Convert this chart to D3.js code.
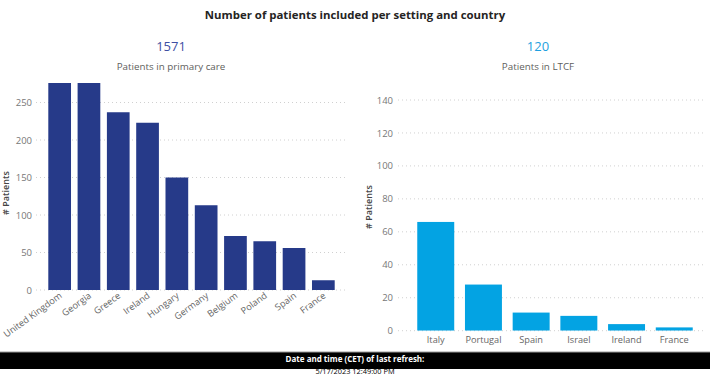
<!DOCTYPE html>
<html><head><meta charset="utf-8">
<script src="https://cdn.jsdelivr.net/npm/d3@7"></script>
<style>
body{margin:0;background:#fff;}
text{font-family:"Segoe UI","Open Sans",sans-serif;}
</style></head>
<body><svg id="c" width="710" height="375"></svg>
<script>
const primaryCountries = ["United Kingdom","Georgia","Greece","Ireland","Hungary","Germany","Belgium","Poland","Spain","France"];
const primaryValues = [320,320,237,223,150,113,72,65,56,13];
const primaryTicks = [0,50,100,150,200,250];
const ltcfCountries = ["Italy","Portugal","Spain","Israel","Ireland","France"];
const ltcfValues = [66,28,11,9,4,2];
const ltcfTicks = [0,20,40,60,80,100,120,140];
const totals = {primary:1571, ltcf:120};

const svg = d3.select("#c");
svg.append("text").attr("x",355).attr("y",19).attr("text-anchor","middle")
  .attr("font-size",11.4).attr("font-weight","bold").attr("fill","#252423")
  .text("Number of patients included per setting and country");

function panel(opts){
  const g = svg.append("g");
  const x = d3.scaleBand().domain(opts.cats).range(opts.xr).paddingInner(0.225).paddingOuter(opts.po);
  const y = d3.scaleLinear().domain(opts.yd).range(opts.yr);
  g.append("text").attr("x",opts.cx).attr("y",51).attr("text-anchor","middle")
    .attr("font-size",13).attr("fill",opts.kpiColor).text(opts.total);
  g.append("text").attr("x",opts.cx).attr("y",69.5).attr("text-anchor","middle")
    .attr("font-size",9.8).attr("fill","#605E5C").text(opts.sub);
  g.selectAll(".grid").data(opts.ticks).join("line")
    .attr("x1",opts.gx[0]).attr("x2",opts.gx[1])
    .attr("y1",d=>y(d)).attr("y2",d=>y(d))
    .attr("stroke","#d0d0d0").attr("stroke-dasharray","1,3").attr("stroke-width",1);
  const ya = g.append("g").attr("transform",`translate(${opts.yLabelX},0)`)
    .call(d3.axisLeft(y).tickValues(opts.ticks).tickSize(0).tickPadding(0));
  ya.select(".domain").remove();
  ya.selectAll("text").attr("font-size",9.5).attr("fill","#777")
    .attr("font-family","'Segoe UI','Open Sans',sans-serif");
  g.append("text").attr("transform",`translate(${opts.titleX},${opts.titleY}) rotate(-90)`)
    .attr("text-anchor","middle").attr("font-size",9).attr("font-weight","600").attr("fill","#444")
    .text("# Patients");
  const id = "clip"+opts.key;
  svg.append("clipPath").attr("id",id).append("rect")
    .attr("x",opts.gx[0]).attr("y",opts.yr[1]).attr("width",opts.gx[1]-opts.gx[0]).attr("height",opts.yr[0]-opts.yr[1]);
  g.append("g").attr("clip-path",`url(#${id})`).selectAll("rect").data(opts.vals).join("rect")
    .attr("x",(d,i)=>x(opts.cats[i])).attr("width",x.bandwidth())
    .attr("y",d=>y(d)).attr("height",d=>opts.yr[0]-y(d))
    .attr("fill",opts.barColor);
  const xl = g.selectAll(".xl").data(opts.cats).join("text")
    .attr("font-size",9.2).attr("fill","#666");
  if(opts.rot){
    xl.attr("text-anchor","end")
      .attr("transform",d=>`translate(${x(d)+x.bandwidth()/2+3},${opts.yr[0]+7}) rotate(-36)`)
      .text(d=>d);
  } else {
    xl.attr("text-anchor","middle").attr("x",d=>x(d)+x.bandwidth()/2).attr("y",opts.yr[0]+12).text(d=>d);
  }
}

panel({key:"p", cats:primaryCountries, vals:primaryValues, ticks:primaryTicks,
  xr:[42,341], po:0.215, yd:[0,276], yr:[290,83], gx:[36,347], yLabelX:32,
  cx:171, total:totals.primary, sub:"Patients in primary care",
  kpiColor:"#3E4FA3", barColor:"#263A89", titleX:9, titleY:193, rot:true});

panel({key:"l", cats:ltcfCountries, vals:ltcfValues, ticks:ltcfTicks,
  xr:[405,705], po:0.257, yd:[0,140], yr:[330.7,100], gx:[398,706], yLabelX:393,
  cx:538, total:totals.ltcf, sub:"Patients in LTCF",
  kpiColor:"#1E9FE0", barColor:"#03A3E3", titleX:372, titleY:207, rot:false});

svg.append("rect").attr("x",0).attr("y",352).attr("width",710).attr("height",17).attr("fill","#000");
svg.append("line").attr("x1",0).attr("x2",710).attr("y1",352).attr("y2",352).attr("stroke","#999");
svg.append("text").attr("x",355).attr("y",361.5).attr("text-anchor","middle").attr("font-size",8)
  .attr("font-weight","bold").attr("fill","#fff").text("Date and time (CET) of last refresh:");
svg.append("text").attr("x",355).attr("y",374).attr("text-anchor","middle").attr("font-size",7.4)
  .attr("fill","#000").text("5/17/2023 12:49:00 PM");
</script></body></html>
